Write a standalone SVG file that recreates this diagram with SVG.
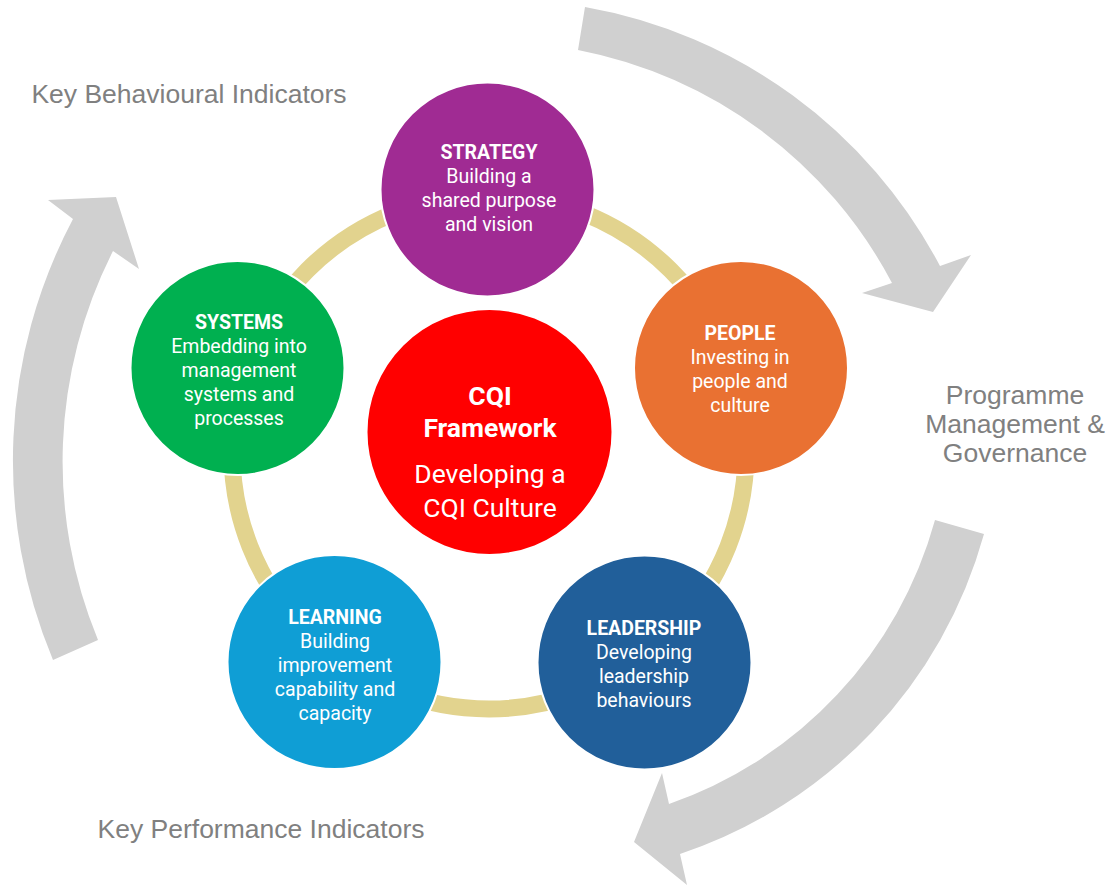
<svg xmlns="http://www.w3.org/2000/svg" width="1111" height="886" viewBox="0 0 1111 886">
<style>
.arrow{fill:#D0D0D0}
.label{font-family:"Liberation Sans",Arial,sans-serif;font-size:26.5px;fill:#808080;text-anchor:middle}
.node{stroke:#FFFFFF;stroke-width:2}
.t{font-family:Roboto,"Liberation Sans",sans-serif;font-size:19.5px;fill:#FFFFFF;text-anchor:middle}
.b{font-weight:bold}
.c{font-family:Roboto,"Liberation Sans",sans-serif;font-size:26.5px;fill:#FFFFFF;text-anchor:middle}
</style>
<rect width="1111" height="886" fill="#FFFFFF"/>
<g id="connectors">
<path class="arrow" d="M585,7 A499,499 0 0,1 940,266 L971,255 L933,312 L862,293 L892,283 A452,452 0 0,0 578,50 Z"/>
<path class="arrow" d="M984,534 A469,469 0 0,1 680,854 L687,885 L634,842 L662,773 L669,804 A418,418 0 0,0 935,520 Z"/>
<path class="arrow" d="M53,660 A516,516 0 0,1 73,219 L48,200 L116,197 L139,269 L113,251 A466,466 0 0,0 98,640 Z"/>
<circle cx="489" cy="452" r="257" fill="none" stroke="#E2D38E" stroke-width="17"/>
</g>
<g id="labels">
<text class="label" x="189" y="103">Key Behavioural Indicators</text>
<text class="label" x="261" y="838">Key Performance Indicators</text>
<text class="label" x="1015" y="404">Programme</text>
<text class="label" x="1015" y="433">Management &amp;</text>
<text class="label" x="1015" y="462">Governance</text>
</g>
<g id="strategy">
<circle class="node" cx="487.5" cy="189.5" r="107" fill="#A02B93"/>
<text class="t b" x="489" y="159">STRATEGY</text>
<text class="t" x="489" y="183">Building a</text>
<text class="t" x="489" y="207">shared purpose</text>
<text class="t" x="489" y="230.5">and vision</text>
</g>
<g id="people">
<circle class="node" cx="741" cy="368" r="107" fill="#E97132"/>
<text class="t b" x="740" y="340">PEOPLE</text>
<text class="t" x="740" y="364">Investing in</text>
<text class="t" x="740" y="388">people and</text>
<text class="t" x="740" y="411.5">culture</text>
</g>
<g id="leadership">
<circle class="node" cx="644.5" cy="662.5" r="107" fill="#215F9A"/>
<text class="t b" x="644" y="635">LEADERSHIP</text>
<text class="t" x="644" y="659">Developing</text>
<text class="t" x="644" y="683">leadership</text>
<text class="t" x="644" y="706.5">behaviours</text>
</g>
<g id="learning">
<circle class="node" cx="334.5" cy="662" r="107" fill="#0F9ED5"/>
<text class="t b" x="335" y="624">LEARNING</text>
<text class="t" x="335" y="648">Building</text>
<text class="t" x="335" y="672">improvement</text>
<text class="t" x="335" y="696">capability and</text>
<text class="t" x="335" y="719.5">capacity</text>
</g>
<g id="systems">
<circle class="node" cx="237.5" cy="368" r="107" fill="#00B050"/>
<text class="t b" x="239" y="329">SYSTEMS</text>
<text class="t" x="239" y="353">Embedding into</text>
<text class="t" x="239" y="377">management</text>
<text class="t" x="239" y="400.5">systems and</text>
<text class="t" x="239" y="424.5">processes</text>
</g>
<g id="cqi">
<circle class="node" cx="489.5" cy="432" r="123" fill="#FF0000"/>
<text class="c b" x="490" y="405">CQI</text>
<text class="c b" x="490" y="437">Framework</text>
<text class="c" x="490" y="483">Developing a</text>
<text class="c" x="490" y="517">CQI Culture</text>
</g>
</svg>
